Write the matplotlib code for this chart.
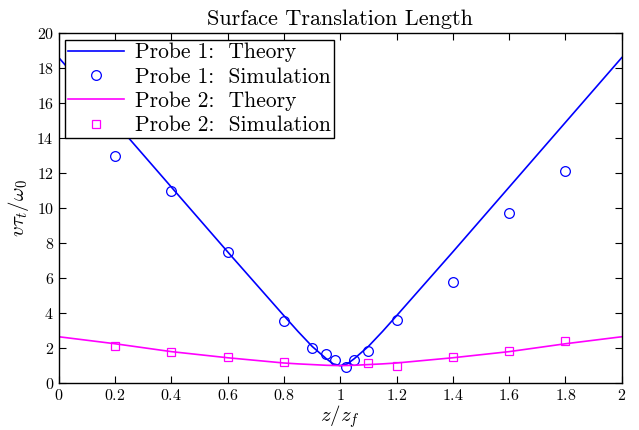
import matplotlib
matplotlib.use('Agg')
import matplotlib.pyplot as plt

plt.rcParams['mathtext.fontset'] = 'cm'
plt.rcParams['font.family'] = 'serif'
plt.rcParams['font.serif'] = ['cmr10', 'DejaVu Serif']
plt.rcParams['axes.formatter.use_mathtext'] = True

# theory curves
z_th = [0.0, 0.2, 0.4, 0.6, 0.8, 0.85, 0.9, 0.95, 0.975, 1.0, 1.025, 1.05, 1.1, 1.15, 1.2, 1.4, 1.6, 1.8, 2.0]
probe1_th = [18.6, 14.9, 11.2, 7.5, 3.85, 2.95, 2.1, 1.4, 1.1, 1.0, 1.1, 1.4, 2.1, 2.95, 3.85, 7.5, 11.2, 14.9, 18.6]
probe2_th = [2.65, 2.25, 1.8, 1.45, 1.15, 1.1, 1.06, 1.02, 1.01, 1.0, 1.01, 1.02, 1.06, 1.1, 1.15, 1.45, 1.8, 2.25, 2.65]

# simulation points
z_sim1 = [0.2, 0.4, 0.6, 0.8, 0.9, 0.95, 0.98, 1.02, 1.05, 1.1, 1.2, 1.4, 1.6, 1.8]
probe1_sim = [13.0, 11.0, 7.5, 3.55, 2.0, 1.65, 1.3, 0.9, 1.35, 1.85, 3.6, 5.75, 9.7, 12.1]
z_sim2 = [0.2, 0.4, 0.6, 0.8, 1.1, 1.2, 1.4, 1.6, 1.8]
probe2_sim = [2.15, 1.8, 1.5, 1.2, 1.15, 1.0, 1.5, 1.85, 2.4]

fig = plt.figure(figsize=(6.39, 4.30), dpi=100)
ax = fig.add_axes([0.092, 0.109, 0.881, 0.814])

ax.plot(z_th, probe1_th, '-', color='#0000ff', lw=1.2, label='Probe 1:  Theory')
ax.plot(z_sim1, probe1_sim, 'o', mfc='none', mec='#0000ff', ms=7, mew=0.9,
        label='Probe 1:  Simulation')
ax.plot(z_th, probe2_th, '-', color='#ff00ff', lw=1.2, label='Probe 2:  Theory')
ax.plot(z_sim2, probe2_sim, 's', mfc='none', mec='#ff00ff', ms=6, mew=0.9,
        label='Probe 2:  Simulation')

ax.set_xlim(0, 2)
ax.set_ylim(0, 20)
ax.set_xticks([0, 0.2, 0.4, 0.6, 0.8, 1, 1.2, 1.4, 1.6, 1.8, 2])
ax.set_xticklabels(['$0$', '$0.2$', '$0.4$', '$0.6$', '$0.8$', '$1$', '$1.2$', '$1.4$', '$1.6$', '$1.8$', '$2$'])
ax.set_yticks(range(0, 21, 2))
ax.set_yticklabels(['$%d$' % v for v in range(0, 21, 2)])
ax.tick_params(direction='in', top=True, right=True, length=5, labelsize=11.5)
for s in ax.spines.values():
    s.set_linewidth(1.0)

ax.set_title('Surface Translation Length', fontsize=16, pad=6)
ax.set_xlabel(r'$z/z_f$', fontsize=15, labelpad=0)
ax.set_ylabel(r'$v\tau_t/\omega_0$', fontsize=15, labelpad=4)

leg = ax.legend(loc='upper left', fontsize=15.5, fancybox=False, edgecolor='black',
                framealpha=1, borderaxespad=0.3, handlelength=2.6, labelspacing=0.22,
                borderpad=0.15, handletextpad=0.5)
leg.get_frame().set_linewidth(1.0)

fig.savefig('out.png', dpi=100)
